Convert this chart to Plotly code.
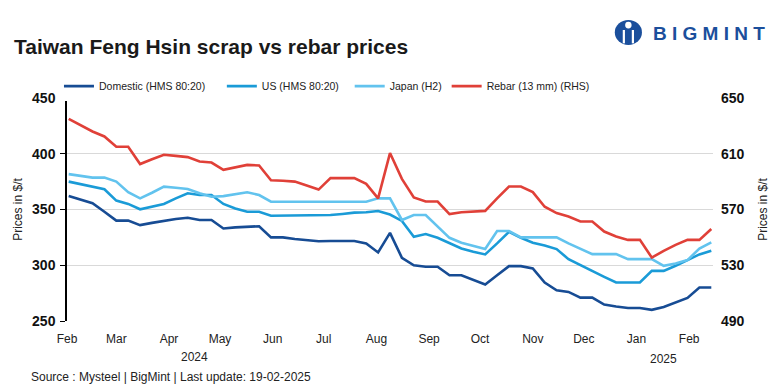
import pandas as pd
import plotly.graph_objects as go

dates = pd.date_range("2024-02-02", periods=55, freq="7D")

domestic = [362, 359, 355.6, 348, 340, 340, 336, 338, 340, 341.5, 342.6, 340.6, 340.6, 333, 334,
            334.6, 335, 325, 325, 323.5, 322.5, 321.5, 321.7, 321.7, 321.7, 319.6, 311.5, 329, 306.7,
            300, 298.6, 298.6, 291, 291, 287.2, 282.7, 291, 299.2, 299.2, 297.1, 284.5, 277.6, 276.1,
            271, 271, 264.8, 263, 261.7, 261.7, 260, 262.6, 266.5, 270.7, 280, 280]
us = [375, 372.7, 370.5, 368.2, 358, 355, 350.2, 352.5, 355, 360, 364.6, 363, 363, 355, 351,
      348, 348, 344.4, 344.4, 344.4, 344.4, 344.4, 345, 346, 347.2, 347.5, 348.7, 345.5, 339.7,
      325.6, 328, 324.7, 320.2, 315.1, 312.1, 309.7, 319.6, 330, 324.6, 320.2, 317.8, 314.5, 305.5,
      300, 295, 289.6, 284.5, 284.5, 284.5, 295, 295, 299.5, 304.6, 309.7, 313]
japan = [381.7, 380, 378.6, 378.6, 375, 365.5, 360, 365, 370.5, 369.5, 368.4, 364.6, 361.5, 362, 364,
         365.5, 363, 357, 357, 357, 357, 357, 357, 357, 357, 357, 360, 360, 340.6,
         345, 345, 334.5, 324.6, 320.2, 317.5, 314.5, 330.7, 330.7, 325, 325, 325, 325, 319.6,
         314.5, 310, 310, 310, 305.5, 305.5, 305.5, 299.5, 301.6, 304.6, 315, 320.5]
rebar = [635, 630.5, 626, 622.4, 615, 615, 602.6, 606, 609.3, 608.5, 607.6, 604.5, 603.7, 598.5, 600.3,
         602, 601.6, 591, 590.6, 590, 587.2, 584.3, 592.5, 592.5, 592.5, 588.4, 578, 610.5, 592,
         578.6, 575.7, 575.7, 566.7, 568, 568.5, 569, 578, 586.5, 586.5, 582.5, 572, 567.4, 565,
         561.4, 561.4, 554.2, 550.6, 548.2, 548.2, 535.5, 540.3, 544.6, 548.2, 548.2, 556]

names = ["Domestic (HMS 80:20)", "US (HMS 80:20)", "Japan (H2)", "Rebar (13 mm) (RHS)"]
legend_pad = [4, 2, 0, 0]  # trailing non-breaking spaces to match legend spacing
colors = ["#174c94", "#1a9bd7", "#62c3ee", "#e04038"]
left_ticks = [250, 300, 350, 400, 450]
right_ticks = [490, 530, 570, 610, 650]

SANS = "Liberation Sans, Arial, sans-serif"

fig = go.Figure()
for vals, nm, pad, col, ax in zip([domestic, us, japan, rebar], names, legend_pad, colors,
                                  ["y", "y", "y", "y2"]):
    fig.add_trace(go.Scatter(x=dates, y=vals, name=nm + "\u00a0" * pad, mode="lines",
                             line=dict(color=col, width=2.6), yaxis=ax))

fig.update_layout(
    width=778, height=388,
    margin=dict(l=67, r=65, t=98, b=67, autoexpand=False),
    paper_bgcolor="white", plot_bgcolor="white",
    showlegend=True,
    legend=dict(orientation="h", x=0.0758, xref="container", y=0.778, yref="container",
                yanchor="middle", xanchor="left",
                font=dict(family=SANS, size=10.5, color="#222"),
                itemwidth=30, tracegroupgap=0),
    title=dict(text="<b>Taiwan Feng Hsin scrap vs rebar prices</b>", x=0.018, xanchor="left",
               y=0.879, yanchor="middle", xref="container", yref="container",
               font=dict(family=SANS, size=21, color="#1a1a1a")),
    xaxis=dict(type="date", range=["2024-02-01", "2025-02-15"], dtick="M1", tick0="2024-02-01",
               tickformat="%b", showgrid=False, showline=False, ticks="", ticklabelstandoff=9,
               tickfont=dict(family=SANS, size=12, color="#222"), zeroline=False),
    yaxis=dict(range=[250, 450], tickvals=left_ticks, ticktext=[f"<b>{v}</b>" for v in left_ticks],
               showgrid=True, gridcolor="#d9d9d9", gridwidth=1,
               showline=True, linecolor="black", linewidth=1.5, ticks="outside", ticklen=5,
               tickcolor="black", ticklabelstandoff=2,
               tickfont=dict(family=SANS, size=14, color="#111"), zeroline=False,
               title=dict(text="Prices in $/t", font=dict(family=SANS, size=12, color="#222"), standoff=7)),
    yaxis2=dict(range=[490, 650], tickvals=right_ticks, ticktext=[f"<b>{v}</b>" for v in right_ticks],
                overlaying="y", side="right", showgrid=False,
                showline=False, ticks="", zeroline=False, ticklabelstandoff=7,
                tickfont=dict(family=SANS, size=14, color="#111"),
                title=dict(text="Prices in $/t", font=dict(family=SANS, size=12, color="#222"), standoff=15)),
)

fig.add_annotation(text="2024", x="2024-04-16", xref="x", y=-0.161, yref="paper", yanchor="middle",
                   showarrow=False, font=dict(family=SANS, size=12, color="#222"))
fig.add_annotation(text="2025", x="2025-01-17", xref="x", y=-0.171, yref="paper", yanchor="middle",
                   showarrow=False, font=dict(family=SANS, size=12, color="#222"))
fig.add_annotation(text="Source : Mysteel | BigMint | Last update: 19-02-2025", x=-0.059, xref="paper",
                   y=-0.251, yref="paper", xanchor="left", yanchor="middle", showarrow=False,
                   font=dict(family=SANS, size=12, color="#222"))

# logo
fig.add_shape(type="circle", xref="paper", yref="paper", x0=0.848, x1=0.890, y0=1.238, y1=1.350,
              fillcolor="#1b4f9c", line=dict(width=0))
for xc in (0.862, 0.876):
    fig.add_shape(type="line", xref="paper", yref="paper", x0=xc, x1=xc, y0=1.245, y1=1.305,
                  line=dict(color="white", width=2.2))
fig.add_shape(type="circle", xref="paper", yref="paper", x0=0.864, x1=0.874, y0=1.312, y1=1.342,
              fillcolor="white", line=dict(width=0))
fig.add_annotation(text="<b>B I G M I N T</b>", x=1.083, xanchor="right", y=1.291, yanchor="middle",
                   xref="paper", yref="paper",
                   showarrow=False, font=dict(family=SANS, size=19, color="#1b4f9c"))

fig.write_html("out.html", config={"displayModeBar": False},
               post_script="document.body.style.margin='0';")
